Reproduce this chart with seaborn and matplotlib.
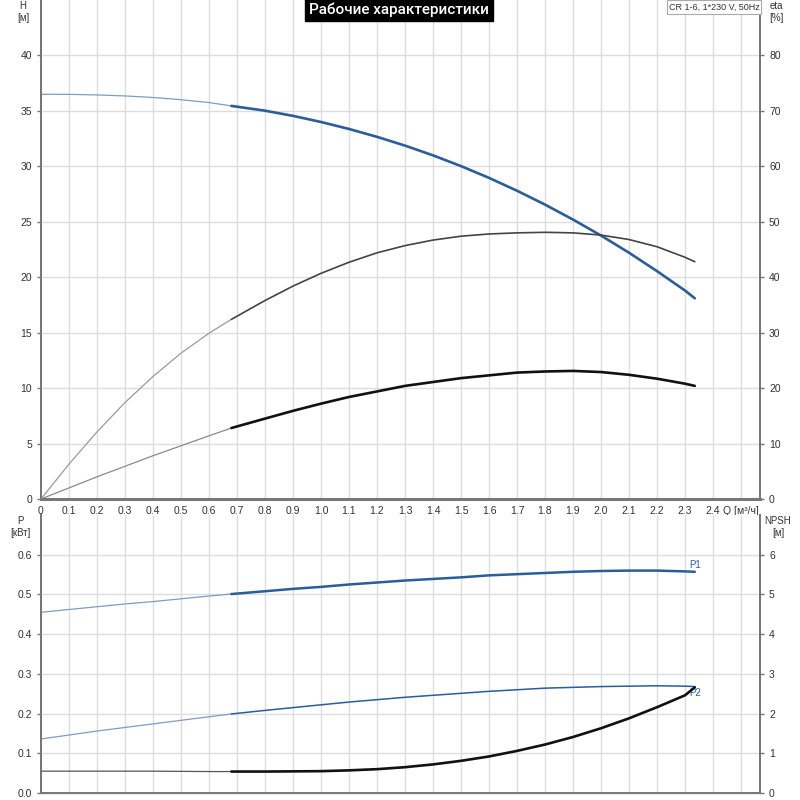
import numpy as np
import pandas as pd
import matplotlib
matplotlib.use("Agg")
import matplotlib.pyplot as plt
import seaborn as sns

# ---------------- data ----------------
q = [0.0, 0.1, 0.2, 0.3, 0.4, 0.5, 0.6, 0.68, 0.8, 0.9, 1.0, 1.1, 1.2, 1.3,
     1.4, 1.5, 1.6, 1.7, 1.8, 1.9, 2.0, 2.1, 2.2, 2.3, 2.335]
head_m = [36.50, 36.49, 36.44, 36.35, 36.21, 36.01, 35.75, 35.45, 35.02, 34.55,
          34.00, 33.37, 32.66, 31.87, 30.99, 30.02, 28.96, 27.80, 26.55, 25.20,
          23.76, 22.21, 20.55, 18.80, 18.10]
eta_total = [0.0, 6.3, 12.1, 17.4, 22.1, 26.3, 29.9, 32.4, 35.8, 38.4, 40.7,
             42.7, 44.4, 45.7, 46.7, 47.4, 47.8, 48.0, 48.1, 48.0, 47.6, 46.8,
             45.5, 43.6, 42.8]
eta_second = [0.0, 2.0, 4.0, 5.9, 7.8, 9.6, 11.4, 12.8, 14.5, 15.9, 17.2, 18.4,
              19.4, 20.4, 21.1, 21.8, 22.3, 22.8, 23.0, 23.1, 22.9, 22.4, 21.7,
              20.8, 20.4]
p1_kw = [0.455, 0.462, 0.469, 0.476, 0.482, 0.489, 0.496, 0.501, 0.508, 0.514,
         0.519, 0.525, 0.530, 0.535, 0.539, 0.543, 0.548, 0.551, 0.554, 0.557,
         0.559, 0.560, 0.560, 0.558, 0.557]
p2_kw = [0.136, 0.146, 0.156, 0.165, 0.174, 0.183, 0.192, 0.199, 0.208, 0.215,
         0.222, 0.229, 0.235, 0.241, 0.246, 0.251, 0.256, 0.260, 0.264, 0.266,
         0.268, 0.269, 0.270, 0.269, 0.268]
npsh_m = [0.55, 0.55, 0.55, 0.55, 0.55, 0.545, 0.54, 0.54, 0.54, 0.545, 0.55,
          0.57, 0.60, 0.65, 0.72, 0.81, 0.92, 1.06, 1.22, 1.41, 1.63, 1.88,
          2.16, 2.46, 2.66]
q_split = 0.68

x_ticks = [round(0.1 * i, 1) for i in range(25)]
x_ticklabels = ["0"] + [f"{v:.1f}" for v in x_ticks[1:]]
q_label = "Q [м³/ч]"
title = "Рабочие характеристики"
info = "CR 1-6, 1*230 V, 50Hz"

df = pd.DataFrame(dict(q=q, H=head_m, eta=eta_total, eta2=eta_second,
                       P1=p1_kw, P2=p2_kw, NPSH=npsh_m))
thin = df[df.q <= q_split]
thick = df[df.q >= q_split]

# ---------------- style ----------------
sns.set_style("white")
plt.rcParams["font.family"] = ["Liberation Sans", "DejaVu Sans"]
tick_col = "#333333"
grid_col = "#dddddd"
spine_col = "#777777"
blue = "#2a5d9b"

fig = plt.figure(figsize=(8, 8), dpi=100)
ax1 = fig.add_axes([41 / 800, 1 - 499 / 800, 719 / 800, 499 / 800])
ax2 = fig.add_axes([41 / 800, 7 / 800, 719 / 800, (793 - 515) / 800])
ax1r = ax1.twinx()
ax2r = ax2.twinx()

xmax = 719 / 280
for a in (ax1, ax2):
    a.set_xlim(0, xmax)
    for v in np.arange(0.1, 2.55, 0.1):
        a.axvline(v, color=grid_col, lw=1, zorder=0)

ax1.set_ylim(0, 45)
ax1r.set_ylim(0, 90)
ax2.set_ylim(0, 0.7)
ax2r.set_ylim(0, 7)
for v in range(5, 45, 5):
    ax1.axhline(v, color=grid_col, lw=1, zorder=0)
for v in np.arange(0.1, 0.65, 0.1):
    ax2.axhline(v, color=grid_col, lw=1, zorder=0)

# ---------------- curves ----------------
sns.lineplot(data=thin, x="q", y="H", ax=ax1, color="#7f9cc2", lw=0.9, sort=False)
sns.lineplot(data=thick, x="q", y="H", ax=ax1, color=blue, lw=1.9, sort=False)
sns.lineplot(data=thin, x="q", y="eta", ax=ax1r, color="#9a9a9a", lw=0.9, sort=False)
sns.lineplot(data=thick, x="q", y="eta", ax=ax1r, color="#444444", lw=1.2, sort=False)
sns.lineplot(data=thin, x="q", y="eta2", ax=ax1r, color="#8a8a8a", lw=0.9, sort=False)
sns.lineplot(data=thick, x="q", y="eta2", ax=ax1r, color="#111111", lw=1.9, sort=False)

sns.lineplot(data=thin, x="q", y="P1", ax=ax2, color="#7f9cc2", lw=0.9, sort=False)
sns.lineplot(data=thick, x="q", y="P1", ax=ax2, color=blue, lw=1.8, sort=False)
sns.lineplot(data=thin, x="q", y="P2", ax=ax2, color="#7f9cc2", lw=0.9, sort=False)
sns.lineplot(data=thick, x="q", y="P2", ax=ax2, color=blue, lw=1.1, sort=False)
sns.lineplot(data=thin, x="q", y="NPSH", ax=ax2r, color="#555555", lw=0.9, sort=False)
sns.lineplot(data=thick, x="q", y="NPSH", ax=ax2r, color="#111111", lw=1.9, sort=False)

ax2.text(q[-1], p1_kw[-1] + 0.004, "P1", color=blue, fontsize=7, ha="center", va="bottom")
ax2.text(q[-1], p2_kw[-1] - 0.004, "P2", color=blue, fontsize=7, ha="center", va="top")

# ---------------- axes cosmetics ----------------
for a in (ax1, ax2, ax1r, ax2r):
    a.set_xlabel("")
    a.set_ylabel("")
    a.spines["top"].set_visible(False)
    for s in ("left", "right", "bottom"):
        a.spines[s].set_color(spine_col)
        a.spines[s].set_linewidth(1.4)
    a.tick_params(labelsize=7.5, labelcolor=tick_col, color=spine_col,
                  length=3, width=1)

ax1.spines["bottom"].set_linewidth(2.2)
ax1.set_yticks(range(0, 45, 5))
ax1r.set_yticks(range(0, 90, 10))
ax1.set_xticks(x_ticks + [2.5])
ax1.set_xticklabels(x_ticklabels + [q_label])
ax1.tick_params(axis="x", length=3, pad=2)
ax1.get_xticklines()[-2].set_visible(False)
ax1.get_xticklines()[-1].set_visible(False)

ax2.set_yticks(np.round(np.arange(0, 0.65, 0.1), 1))
ax2.set_yticklabels([f"{v:.1f}" for v in np.arange(0, 0.65, 0.1)])
ax2r.set_yticks(range(0, 7))
ax2.set_xticks(x_ticks)
ax2.tick_params(axis="x", length=0, labelbottom=False)
ax2.spines["bottom"].set_linewidth(1.0)
ax2.spines["bottom"].set_color("#aaaaaa")

# ---------------- texts ----------------
fig.text(23 / 800, 1 - 12 / 800, "H\n[м]", ha="center", va="center",
         fontsize=7, color=tick_col, linespacing=1.2)
fig.text(776 / 800, 1 - 12 / 800, "eta\n[%]", ha="center", va="center",
         fontsize=7, color=tick_col, linespacing=1.2)
fig.text(20 / 800, 1 - 527 / 800, "P\n[кВт]", ha="center", va="center",
         fontsize=7, color=tick_col, linespacing=1.2)
fig.text(778 / 800, 1 - 527 / 800, "NPSH\n[м]", ha="center", va="center",
         fontsize=7, color=tick_col, linespacing=1.2)

fig.text(399 / 800, 1 - 10 / 800, title, ha="center", va="center",
         fontsize=11, color="white", family=["Roboto", "DejaVu Sans"],
         fontweight="medium",
         bbox=dict(facecolor="black", edgecolor="black", pad=3))
fig.text(714 / 800, 1 - 7 / 800, info, ha="center", va="center",
         fontsize=6.5, color="#333333",
         bbox=dict(facecolor="white", edgecolor="#aaaaaa", pad=1.5, lw=0.8))

fig.savefig("out.png", dpi=100)
